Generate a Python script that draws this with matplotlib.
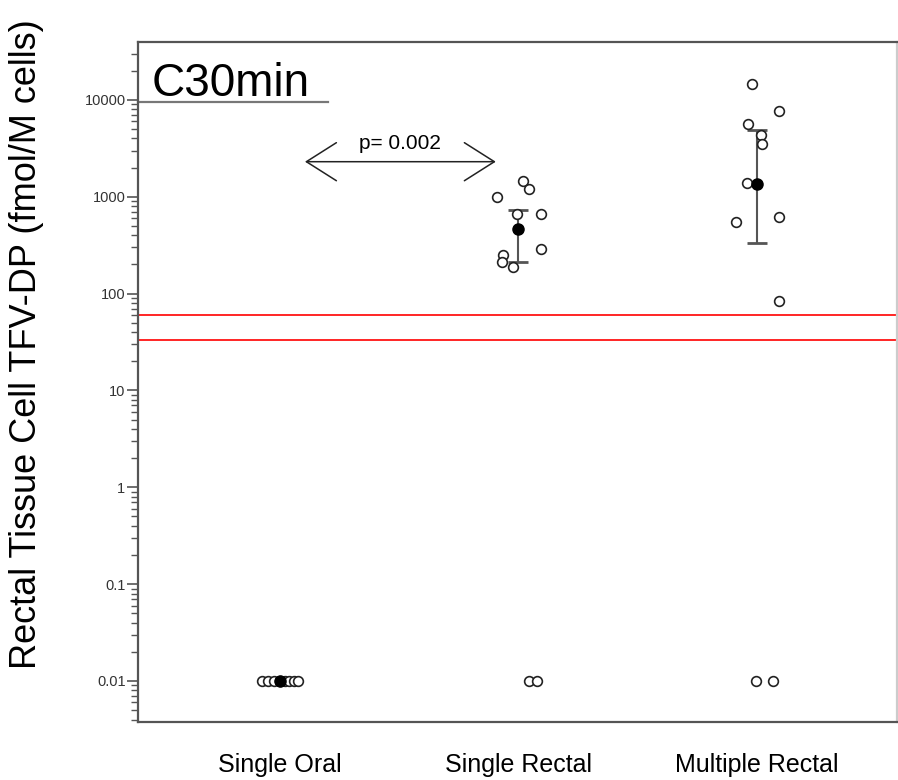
import numpy as np
import matplotlib
matplotlib.use("Agg")
import matplotlib.pyplot as plt

plt.rcParams['font.family'] = ['Liberation Sans', 'DejaVu Sans']

# groups and raw points (x = jitter around group index)
groups = ["Single Oral", "Single Rectal", "Multiple Rectal"]

oral_x = [-0.075, -0.05, -0.025, 0.0, 0.02, 0.04, 0.06, 0.075]
oral_y = [0.01, 0.01, 0.01, 0.01, 0.01, 0.01, 0.01, 0.01]

srect_x = [0.021, 0.046, -0.088, 0.096, -0.004, 0.096, -0.063, -0.071, -0.021, 0.046, 0.079]
srect_y = [1450, 1200, 1000, 660, 670, 290, 250, 210, 190, 0.01, 0.01]

mrect_x = [-0.021, 0.092, -0.038, 0.017, 0.021, -0.042, -0.088, 0.092, 0.092, -0.004, 0.067]
mrect_y = [14600, 7700, 5640, 4360, 3520, 1390, 552, 622, 83, 0.01, 0.01]

# summary (mean and range bar)
mean_vals = [0.01, 468, 1360]
bar_low = [0.01, 214, 336]
bar_high = [0.01, 735, 4900]

# reference lines (LLOQ range)
ref_lines = [60, 33]
p_text = "p= 0.002"
arrow_y = 2300

fig = plt.figure(figsize=(8.98, 7.8), dpi=100)
ax = fig.add_axes([138 / 898, 58 / 780, 759 / 898, 680 / 780])

pts_x = [oral_x, srect_x, mrect_x]
pts_y = [oral_y, srect_y, mrect_y]
for i in range(3):
    ax.plot(np.array(pts_x[i]) + i, pts_y[i], 'o', ms=7, mfc='white',
            mec='#222222', mew=1.2, zorder=3)

for i in range(3):
    if bar_high[i] > bar_low[i]:
        ax.errorbar(i, mean_vals[i],
                    yerr=[[mean_vals[i] - bar_low[i]], [bar_high[i] - mean_vals[i]]],
                    fmt='none', ecolor='#555555', elinewidth=1.5, capsize=7,
                    capthick=2, zorder=2)
    ax.plot(i, mean_vals[i], 'o', ms=8, color='black', zorder=4)

for v in ref_lines:
    ax.axhline(v, color='red', lw=1.2, zorder=1)

ax.set_yscale('log')
ax.set_ylim(0.00377, 39600)
ax.set_xlim(-0.595, 2.587)
ax.set_yticks([0.01, 0.1, 1, 10, 100, 1000, 10000])
ax.set_yticklabels(["0.01", "0.1", "1", "10", "100", "1000", "10000"])
ax.tick_params(axis='y', which='major', length=8, width=1.2, color='#555555',
               labelsize=10.5, labelcolor='#333333', pad=1)
ax.tick_params(axis='y', which='minor', length=5, width=1, color='#555555')
ax.set_xticks([0, 1, 2])
ax.set_xticklabels(groups, fontsize=18)
ax.tick_params(axis='x', length=0, pad=22)

for s in ['left', 'top', 'bottom']:
    ax.spines[s].set_color('#555555')
    ax.spines[s].set_linewidth(1.6)
ax.spines['right'].set_color('#cccccc')
ax.spines['right'].set_linewidth(1.6)

# panel label with underline
ax.text(0.018, 0.92, "C30min", transform=ax.transAxes, fontsize=33,
        va='baseline', ha='left')
ax.plot([0, 0.25], [0.912, 0.912], transform=ax.transAxes, color='#777777',
        lw=1.6, clip_on=False)

# p-value arrow
ax.annotate("", xy=(0.105, arrow_y), xytext=(0.905, arrow_y),
            arrowprops=dict(arrowstyle='<->, head_length=2.16, head_width=1.37',
                            mutation_scale=10, color='#222222', lw=1.1,
                            shrinkA=0, shrinkB=0))
ax.text(0.505, arrow_y * 1.22, p_text, fontsize=15, ha='center', va='bottom')

fig.text(27 / 898, 1 - 344 / 780, "Rectal Tissue Cell TFV-DP (fmol/M cells)",
         rotation=90, fontsize=26, ha='center', va='center')

fig.savefig("out.png", dpi=100)
